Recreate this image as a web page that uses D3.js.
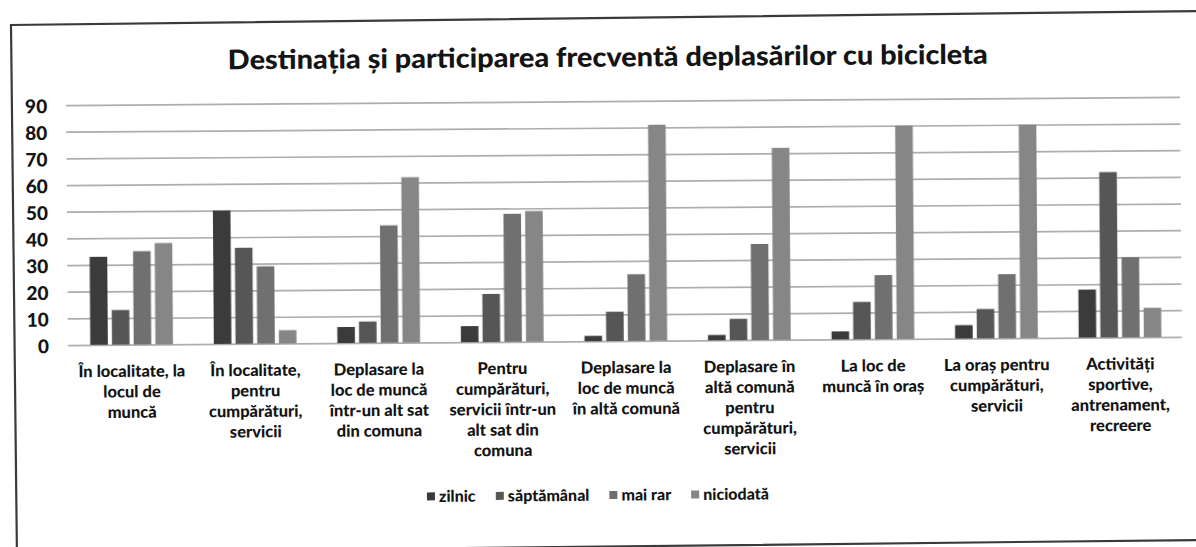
<!DOCTYPE html>
<html>
<head>
<meta charset="utf-8">
<script src="https://cdn.jsdelivr.net/npm/d3@7"></script>
<style>
  body { margin: 0; background: #fff; }
  svg { display: block; }
  text { font-family: Lato, "Open Sans", sans-serif; font-weight: 900; fill: #141414; }
</style>
</head>
<body>
<svg id="chart" width="1196" height="547"></svg>
<script>
// Destinations and frequency of bicycle trips (percent of respondents)
const categories = [
  "În localitate, la locul de muncă",
  "În localitate, pentru cumpărături, servicii",
  "Deplasare la loc de muncă într-un alt sat din comuna",
  "Pentru cumpărături, servicii într-un alt sat din comuna",
  "Deplasare la loc de muncă în altă comună",
  "Deplasare în altă comună pentru cumpărături, servicii",
  "La loc de muncă în oraș",
  "La oraș pentru cumpărături, servicii",
  "Activități sportive, antrenament, recreere"
];
// Category labels broken into lines as printed under the axis
const categoryLines = [
  ["În localitate, la", "locul de", "muncă"],
  ["În localitate,", "pentru", "cumpărături,", "servicii"],
  ["Deplasare la", "loc de muncă", "într-un alt sat", "din comuna"],
  ["Pentru", "cumpărături,", "servicii într-un", "alt sat din", "comuna"],
  ["Deplasare la", "loc de muncă", "în altă comună"],
  ["Deplasare în", "altă comună", "pentru", "cumpărături,", "servicii"],
  ["La loc de", "muncă în oraș"],
  ["La oraș pentru", "cumpărături,", "servicii"],
  ["Activități", "sportive,", "antrenament,", "recreere"]
];
const seriesNames = ["zilnic", "săptămânal", "mai rar", "niciodată"];
const zilnic     = [33, 50,  6,  6,  2,  2,  3,  5, 18];
const saptamanal = [13, 36,  8, 18, 11,  8, 14, 11, 62];
const maiRar     = [35, 29, 44, 48, 25, 36, 24, 24, 30];
const niciodata  = [38,  5, 62, 49, 81, 72, 80, 80, 11];
const yTicks = [0, 10, 20, 30, 40, 50, 60, 70, 80, 90];

const seriesValues = [zilnic, saptamanal, maiRar, niciodata];
const seriesColors = ["#3a3a3a", "#575757", "#707070", "#868686"];

const rows = categories.map((c, i) => ({
  cat: c,
  values: seriesNames.map((s, k) => ({ key: s, value: seriesValues[k][i] }))
}));

const svg = d3.select("#chart");

// Outer frame of the chart area
svg.append("path")
  .attr("d", "M17,560 L11,25 L1200,11 M1200,540 L17,553")
  .attr("fill", "none")
  .attr("stroke", "#3a3a3a")
  .attr("stroke-width", 2.2);

const g = svg.append("g").attr("transform", "rotate(-0.42, 620, 225)");

const plot = { left: 69, right: 1181, top: 101, bottom: 341 };

const y = d3.scaleLinear().domain([0, 90]).range([plot.bottom, plot.top]);
const x0 = d3.scaleBand().domain(categories).range([plot.left, plot.right]).padding(0);
const groupWidth = 82.7;
const x1 = d3.scaleBand().domain(seriesNames)
  .range([(x0.bandwidth() - groupWidth) / 2, (x0.bandwidth() + groupWidth) / 2])
  .paddingInner(0.19).paddingOuter(0);
const color = d3.scaleOrdinal().domain(seriesNames).range(seriesColors);

// Horizontal gridlines
const yAxis = d3.axisLeft(y).tickValues(yTicks)
  .tickSize(-(plot.right - plot.left + 2)).tickFormat("");
const ya = g.append("g").attr("transform", `translate(${plot.left - 2},0)`).call(yAxis);
ya.select(".domain").remove();
ya.selectAll(".tick line").attr("stroke", "#aeaeae").attr("stroke-width", 1.7);

// Value labels on the left
g.append("g").selectAll("text").data(yTicks).join("text")
  .attr("x", 48)
  .attr("y", d => y(d))
  .attr("dy", "0.42em")
  .attr("text-anchor", "end")
  .style("font-size", "19px")
  .attr("fill", "#111")
  .text(d => d);

// Bars
const soft = svg.append("defs").append("filter").attr("id", "soft")
  .attr("x", "-10%").attr("y", "-10%").attr("width", "120%").attr("height", "120%");
soft.append("feGaussianBlur").attr("stdDeviation", 0.6);

g.append("g").attr("filter", "url(#soft)")
  .selectAll("g").data(rows).join("g")
  .attr("transform", d => `translate(${x0(d.cat)},0)`)
  .selectAll("rect").data(d => d.values).join("rect")
  .attr("x", d => x1(d.key))
  .attr("width", x1.bandwidth())
  .attr("y", d => y(d.value))
  .attr("height", d => y(0) - y(d.value))
  .attr("fill", d => color(d.key));

// Category labels
const labelTop = 367.5;
const lineH = 20.5;
const lab = g.append("g").selectAll("text").data(categories).join("text")
  .attr("text-anchor", "middle")
  .style("font-size", "16.5px")
  .attr("transform", d => `translate(${x0(d) + x0.bandwidth() / 2},${labelTop})`);
lab.each(function(d, i) {
  d3.select(this).selectAll("tspan").data(categoryLines[i]).join("tspan")
    .attr("x", 0)
    .attr("y", (t, j) => j * lineH)
    .attr("dy", "0.35em")
    .text(t => t);
});

// Title
g.append("text")
  .attr("x", 609).attr("y", 57)
  .attr("text-anchor", "middle")
  .attr("dy", "0.35em")
  .attr("textLength", 760)
  .attr("lengthAdjust", "spacingAndGlyphs")
  .style("font-size", "27px")
  .attr("fill", "#2a2a2a")
  .text("Destinația și participarea frecventă deplasărilor cu bicicleta");

// Legend
const legendY = 495;
const leg = g.append("g");
const items = leg.selectAll("g").data(seriesNames).join("g");
items.append("rect")
  .attr("width", 8).attr("height", 8).attr("y", legendY - 4)
  .attr("fill", d => color(d));
items.append("text")
  .attr("x", 12).attr("y", legendY).attr("dy", "0.35em")
  .style("font-size", "16px")
  .text(d => d);
const widths = [];
items.each(function() { widths.push(this.getBBox().width); });
const gap = 20;
const total = d3.sum(widths) + gap * (widths.length - 1);
let cx = 596 - total / 2;
items.each(function(d, i) {
  d3.select(this).attr("transform", `translate(${cx},0)`);
  cx += widths[i] + gap;
});
</script>
</body>
</html>
